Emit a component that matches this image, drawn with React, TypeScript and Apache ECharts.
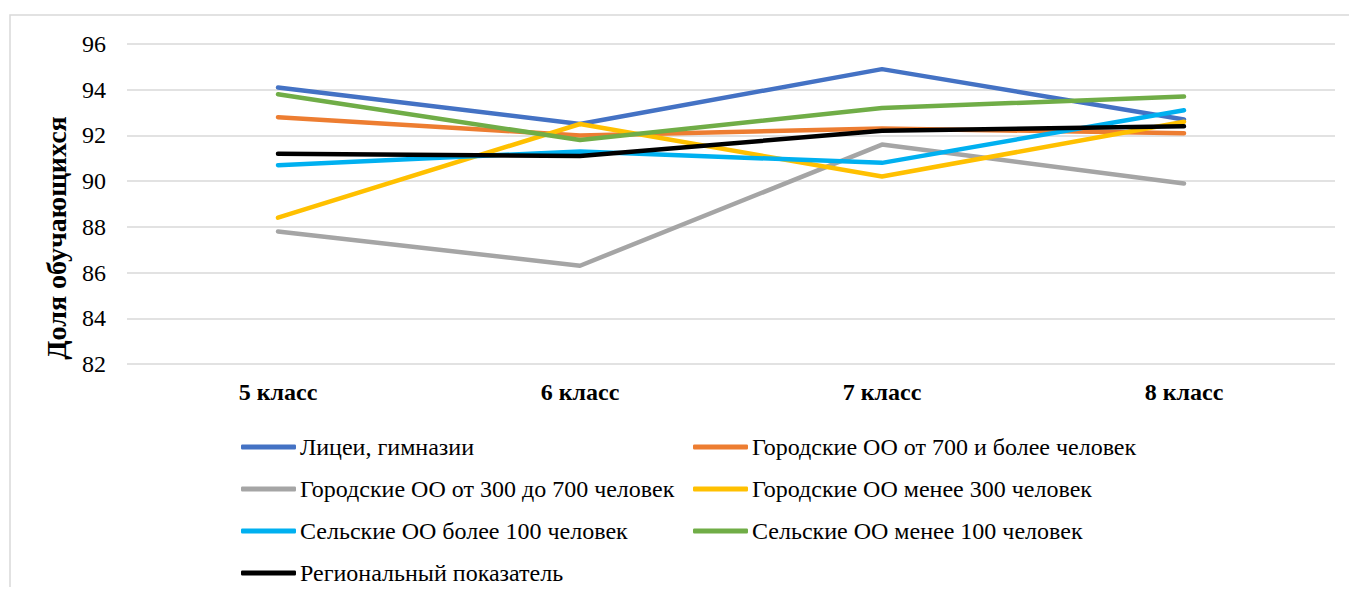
import React, { useEffect, useRef } from "react";
import * as echarts from "echarts";

const categories = ["5 класс", "6 класс", "7 класс", "8 класс"];
const yTicks = { min: 82, max: 96, step: 2 };

const seriesNames = [
  "Лицеи, гимназии",
  "Городские ОО от 700 и более человек",
  "Городские ОО от 300 до 700 человек",
  "Городские ОО менее 300 человек",
  "Сельские ОО более 100 человек",
  "Сельские ОО менее 100 человек",
  "Региональный показатель",
];

const lyceums = [94.1, 92.5, 94.9, 92.7];
const urbanOver700 = [92.8, 92.0, 92.3, 92.1];
const urban300to700 = [87.8, 86.3, 91.6, 89.9];
const urbanUnder300 = [88.4, 92.5, 90.2, 92.6];
const ruralOver100 = [90.7, 91.3, 90.8, 93.1];
const ruralUnder100 = [93.8, 91.8, 93.2, 93.7];
const regional = [91.2, 91.1, 92.2, 92.4];

const seriesValues = [lyceums, urbanOver700, urban300to700, urbanUnder300, ruralOver100, ruralUnder100, regional];
const colors = ["#4472C4", "#ED7D31", "#A5A5A5", "#FFC000", "#00B0F0", "#70AD47", "#000000"];

const legendLeft = [seriesNames[0], seriesNames[2], seriesNames[4], seriesNames[6]];
const legendRight = [seriesNames[1], seriesNames[3], seriesNames[5]];

const FONT = "'Liberation Serif', 'Times New Roman', serif";

export default function App() {
  const ref = useRef<HTMLDivElement>(null);
  useEffect(() => {
    if (!ref.current) return;
    const chart = echarts.init(ref.current, undefined, { renderer: "svg" });
    const legendCommon = {
      orient: "vertical" as const,
      itemWidth: 55,
      itemHeight: 5,
      itemGap: 16,
      padding: 0,
      height: 200,
      icon: "roundRect",
      textStyle: { fontFamily: FONT, fontSize: 24, color: "#000", lineHeight: 26, padding: [0, 0, 0, -1] },
      top: 426,
    };
    chart.setOption({
      animation: false,
      color: colors,
      textStyle: { fontFamily: FONT },
      grid: { left: 119, top: 36, width: 1208, height: 320, containLabel: false },
      legend: [
        { ...legendCommon, left: 233, data: legendLeft },
        { ...legendCommon, left: 685, data: legendRight },
      ],
      graphic: [
        {
          type: "rect",
          shape: { x: 2, y: 7, width: 1500, height: 1000 },
          style: { fill: "none", stroke: "#D9D9D9", lineWidth: 1.5 },
          silent: true,
        },
        {
          type: "text",
          x: 48,
          y: 230,
          rotation: Math.PI / 2,
          style: {
            text: "Доля обучающихся",
            fontFamily: FONT,
            fontSize: 28,
            fontWeight: "bold",
            fill: "#000",
            align: "center",
            verticalAlign: "middle",
          },
        },
      ],
      xAxis: {
        type: "category",
        data: categories,
        boundaryGap: true,
        axisLine: { show: false },
        axisTick: { show: false },
        axisLabel: { fontFamily: FONT, fontSize: 24, fontWeight: "bold", color: "#000", margin: 16 },
      },
      yAxis: {
        type: "value",
        min: yTicks.min,
        max: yTicks.max,
        interval: yTicks.step,
        axisLine: { show: false },
        axisTick: { show: false },
        axisLabel: { fontFamily: FONT, fontSize: 24, color: "#000", margin: 21 },
        splitLine: { lineStyle: { color: "#D9D9D9", width: 1.5 } },
      },
      series: seriesNames.map((name, i) => ({
        name,
        type: "line",
        data: seriesValues[i],
        symbol: "none",
        showSymbol: false,
        lineStyle: { width: 4.5, color: colors[i], cap: "round", join: "round" },
        itemStyle: { color: colors[i] },
      })),
    });
    return () => chart.dispose();
  }, []);
  return <div ref={ref} style={{ width: 1341, height: 579 }} />;
}
